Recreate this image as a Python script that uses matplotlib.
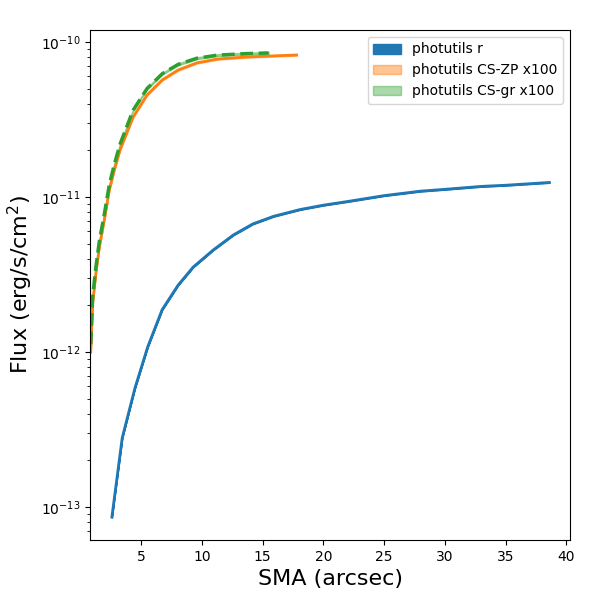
import numpy as np
import matplotlib
matplotlib.use('Agg')
import matplotlib.pyplot as plt

# photutils r profile
sma_r = [2.6, 3.45, 4.5, 5.55, 6.73, 8.05, 9.29, 10.94, 12.6, 14.2, 15.9, 18.1,
         20.0, 22.0, 25.0, 28.0, 30.0, 33.0, 35.0, 38.6]
flux_r = [8.6e-14, 2.79e-13, 5.86e-13, 1.08e-12, 1.87e-12, 2.70e-12, 3.53e-12,
          4.55e-12, 5.69e-12, 6.70e-12, 7.50e-12, 8.30e-12, 8.85e-12, 9.35e-12,
          1.02e-11, 1.09e-11, 1.12e-11, 1.17e-11, 1.19e-11, 1.24e-11]

# CS-ZP x100
sma_zp = [0.86, 1.02, 1.29, 1.57, 1.98, 2.39, 2.80, 3.27, 4.35, 5.5, 6.75,
          8.05, 9.6, 11.3, 13.7, 17.8]
flux_zp = [1.00e-12, 2.07e-12, 3.24e-12, 4.75e-12, 7.11e-12, 1.11e-11, 1.49e-11,
           2.01e-11, 3.28e-11, 4.55e-11, 5.69e-11, 6.59e-11, 7.33e-11, 7.76e-11,
           8.0e-11, 8.24e-11]

# CS-gr x100
sma_gr = [0.86, 1.02, 1.29, 1.57, 1.98, 2.39, 2.80, 3.27, 4.35, 5.5, 6.75,
          8.05, 9.6, 11.3, 13.7, 15.5]
flux_gr = [1.12e-12, 2.29e-12, 3.55e-12, 5.19e-12, 7.76e-12, 1.20e-11, 1.62e-11,
           2.19e-11, 3.63e-11, 5.01e-11, 6.24e-11, 7.16e-11, 7.85e-11, 8.22e-11,
           8.41e-11, 8.49e-11]

fig, ax = plt.subplots(figsize=(6, 6), dpi=100)
plt.subplots_adjust(left=0.15, right=0.95, bottom=0.1, top=0.95)

fr = np.array(flux_r)
fz = np.array(flux_zp)
fg = np.array(flux_gr)

ax.fill_between(sma_r, fr * 0.995, fr * 1.005, color='C0', alpha=1, label='photutils r')
ax.plot(sma_r, fr, color='C0', lw=2)
ax.fill_between(sma_zp, fz * 0.99, fz * 1.01, color='C1', alpha=0.45, label='photutils CS-ZP x100')
ax.plot(sma_zp, fz, color='C1', lw=2)
ax.fill_between(sma_gr, fg * 0.985, fg * 1.015, color='C2', alpha=0.4, label='photutils CS-gr x100')
ax.plot(sma_gr, fg, color='C2', lw=2.5, ls='--')

ax.set_yscale('log')
ax.set_xlim(0.8, 40.3)
ax.set_ylim(10 ** -13.213, 10 ** -9.923)
ax.set_xlabel('SMA (arcsec)', fontsize=16)
ax.set_ylabel('Flux (erg/s/cm$^2$)', fontsize=16)
ax.legend(loc='upper right', fontsize=10)

plt.savefig('out.png')
